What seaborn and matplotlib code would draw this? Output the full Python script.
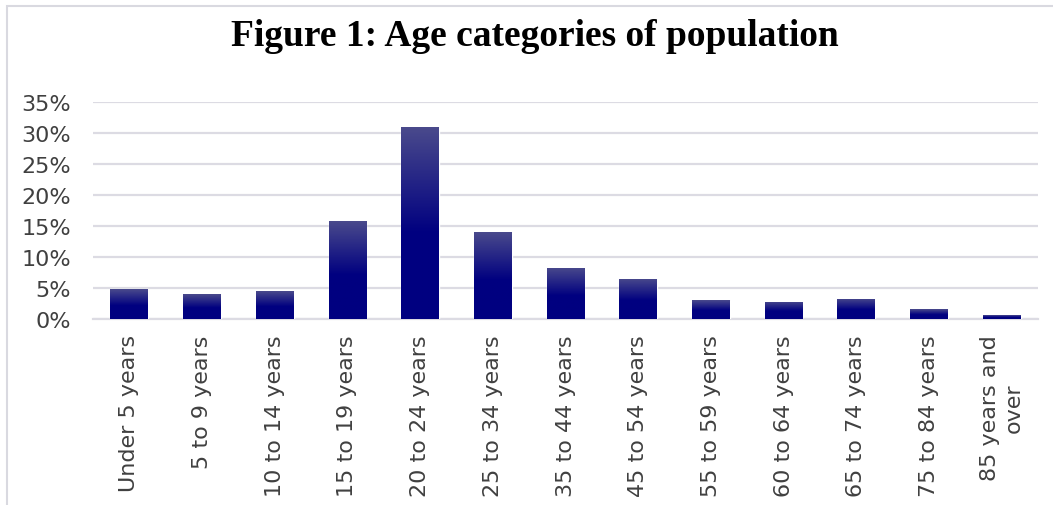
import numpy as np
import pandas as pd
import matplotlib
matplotlib.use("Agg")
import matplotlib.pyplot as plt
import seaborn as sns
from matplotlib.colors import LinearSegmentedColormap
from matplotlib.patches import Rectangle
from matplotlib.ticker import PercentFormatter

categories = ["Under 5 years", "5 to 9 years", "10 to 14 years", "15 to 19 years",
              "20 to 24 years", "25 to 34 years", "35 to 44 years", "45 to 54 years",
              "55 to 59 years", "60 to 64 years", "65 to 74 years", "75 to 84 years",
              "85 years and\nover"]
values = [4.8, 4.0, 4.5, 15.8, 31.0, 14.0, 8.3, 6.5, 3.0, 2.8, 3.3, 1.6, 0.6]
y_ticks = [0, 5, 10, 15, 20, 25, 30, 35]
title = "Figure 1: Age categories of population"

sns.set_theme(style="white")
plt.rcParams['font.family'] = ['DejaVu Sans']

df = pd.DataFrame({"cat": categories, "val": values})

fig = plt.figure(figsize=(10.53, 5.06), dpi=100)
ax = fig.add_axes([93/1053, 1-320/506, 945/1053, (320-103.3)/506])

sns.barplot(data=df, x="cat", y="val", color="#000080", width=0.52,
            saturation=1, ax=ax, zorder=3)

# gradient fill for each bar
navy = np.array([0, 0, 128]) / 255
top = np.array([74, 74, 140]) / 255
cmap = LinearSegmentedColormap.from_list("g", [(0, navy), (0.45, navy), (1, top)])
grad = np.linspace(0, 1, 256).reshape(-1, 1)
for p in list(ax.patches):
    x0, y0 = p.get_x(), p.get_y()
    w, h = p.get_width(), p.get_height()
    im = ax.imshow(grad, cmap=cmap, aspect="auto", origin="lower",
                   extent=[x0, x0 + w, y0, y0 + h], zorder=4)
    im.set_clip_path(p)
ax.set_xlim(-0.5, len(categories) - 0.5)
ax.set_ylim(0, 35)

ax.set_yticks(y_ticks)
ax.yaxis.set_major_formatter(PercentFormatter(decimals=0))
ax.grid(axis="y", color="#dcdbe3", linewidth=1.6, zorder=0)
ax.set_axisbelow(True)
for s in ["top", "right", "left"]:
    ax.spines[s].set_visible(False)
ax.spines["bottom"].set_color("#dcdbe3")
ax.spines["bottom"].set_linewidth(1.6)
ax.set_xlabel("")
ax.set_ylabel("")
ax.tick_params(axis="both", length=0, labelsize=16, colors="#404040")
ax.tick_params(axis="x", pad=11)
ax.tick_params(axis="y", pad=16)
for lbl in ax.get_xticklabels():
    lbl.set_rotation(90)
    lbl.set_multialignment("center")

fig.text(535/1053, 1-36/506, title, ha="center", va="center",
         fontsize=27, fontweight="bold", family="Liberation Serif", color="black")

fig.patches.append(Rectangle((7/1053, -0.05), 1.1, 1 - 7/506 + 0.05,
                             transform=fig.transFigure, fill=False,
                             edgecolor="#d9d9e0", linewidth=1.5))

fig.savefig("out.png", dpi=100)
